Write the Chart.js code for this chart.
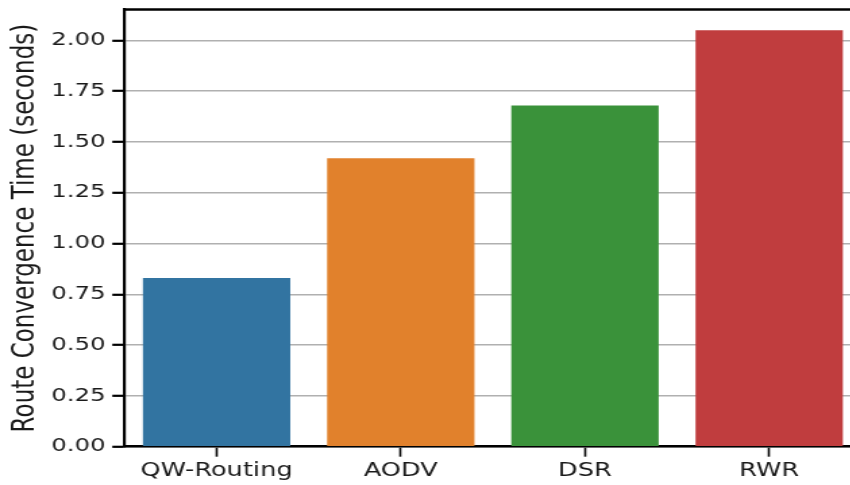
<!DOCTYPE html>
<html>
<head>
<meta charset="utf-8">
<script src="https://cdn.jsdelivr.net/npm/chart.js@4"></script>
<style>
  html, body { margin: 0; padding: 0; background: #fff; overflow: hidden; width: 850px; height: 485px; }
  /* the reference figure is stretched sideways, so the canvas is too */
  #wrap { width: 640px; height: 485px; transform: scaleX(1.35); transform-origin: 0 0; }
</style>
</head>
<body>
<div id="wrap"><canvas id="chart-convergence"></canvas></div>
<script>
const methods = ['QW-Routing', 'AODV', 'DSR', 'RWR'];
const convergenceTime = [0.83, 1.42, 1.68, 2.05];
const barColors = ['#3274a1', '#e1812c', '#3a923a', '#c03d3e'];
const yTicks = [0, 0.25, 0.5, 0.75, 1.0, 1.25, 1.5, 1.75, 2.0];
const yTitle = 'Route Convergence Time (seconds)';

// top spine, like the matplotlib frame
const topSpine = {
    id: 'topSpine',
    afterDraw(chart) {
        const { ctx, chartArea } = chart;
        ctx.save();
        ctx.strokeStyle = '#000';
        ctx.lineWidth = 2.5;
        ctx.beginPath();
        ctx.moveTo(chartArea.left - 1, chartArea.top);
        ctx.lineTo(chartArea.right, chartArea.top);
        ctx.stroke();
        ctx.restore();
    }
};

const ctx = document.getElementById('chart-convergence').getContext('2d');
new Chart(ctx, {
    type: 'bar',
    data: {
        labels: methods,
        datasets: [{
            data: convergenceTime,
            backgroundColor: barColors,
            borderWidth: 0,
            barPercentage: 0.8,
            categoryPercentage: 1.0
        }]
    },
    options: {
        responsive: true,
        maintainAspectRatio: false,
        animation: false,
        layout: { padding: { top: 9.5, left: 3.5, right: 2, bottom: 0.5 } },
        plugins: { legend: { display: false }, tooltip: { enabled: false } },
        scales: {
            x: {
                grid: { display: true, drawOnChartArea: false, offset: false, tickLength: 10, tickWidth: 1.6, tickColor: '#000' },
                border: { display: true, color: '#000', width: 2.5 },
                ticks: { color: '#1a1a1a', font: { family: 'DejaVu Sans', size: 19 }, padding: 2.5, maxRotation: 0 }
            },
            y: {
                min: 0,
                max: 2.1525,
                z: 1,
                afterBuildTicks: scale => { scale.ticks = yTicks.map(v => ({ value: v })); },
                // no extra room for the end labels, they sit well inside
                afterFit: scale => { scale.paddingTop = 0; scale.paddingBottom = 0; },
                grid: { color: '#b0b0b0', lineWidth: 1.6, tickLength: 9, tickWidth: 2.2, tickColor: '#000' },
                border: { display: true, color: '#000', width: 2.2 },
                ticks: {
                    color: '#1a1a1a',
                    font: { family: 'DejaVu Sans', size: 18 },
                    padding: 5,
                    callback: v => v.toFixed(2)
                },
                title: {
                    display: true,
                    text: yTitle,
                    color: '#1a1a1a',
                    font: { family: 'DejaVu Sans', size: 23 },
                    padding: { top: 2, bottom: 0 }
                }
            }
        }
    },
    plugins: [topSpine]
});
</script>
</body>
</html>
